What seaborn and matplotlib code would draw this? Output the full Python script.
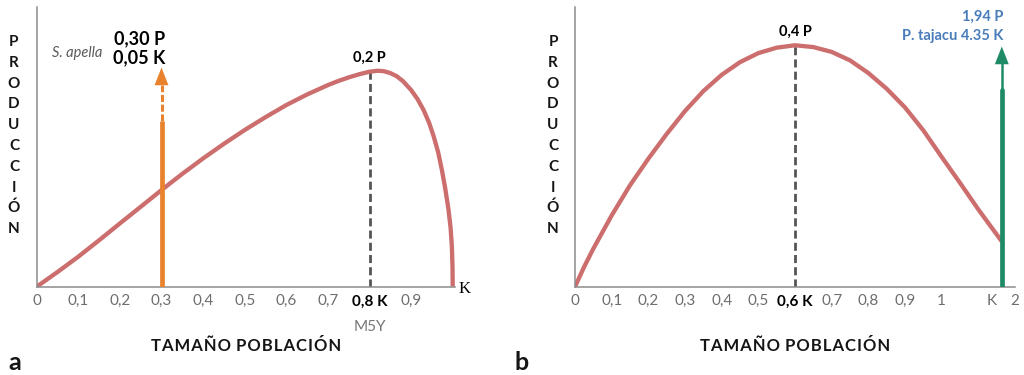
import matplotlib
matplotlib.use("Agg")
import matplotlib.pyplot as plt
import seaborn as sns
import pandas as pd

# ---------------- data ----------------
# panel a: production curve (x in fraction of K, y in P units)
a_x = [0.0, 0.05, 0.1, 0.15, 0.2, 0.25, 0.3, 0.35, 0.4, 0.45, 0.5, 0.55, 0.6, 0.65,
       0.7, 0.725, 0.75, 0.775, 0.8, 0.82, 0.835, 0.85, 0.865, 0.88, 0.9, 0.915,
       0.93, 0.943, 0.954, 0.965, 0.974, 0.982, 0.99, 0.995, 0.998, 0.9995, 1.0]
a_y = [0.0, 0.0136, 0.0278, 0.043, 0.0586, 0.074, 0.0895, 0.1045, 0.1188, 0.1323,
       0.1451, 0.157, 0.1682, 0.178, 0.1867, 0.1905, 0.1938, 0.1967, 0.1991, 0.2,
       0.1995, 0.1978, 0.195, 0.1905, 0.1821, 0.174, 0.1636, 0.152, 0.1395, 0.1245,
       0.108, 0.091, 0.071, 0.054, 0.037, 0.018, 0.0]
a_peak_x, a_peak_y = 0.8, 0.2
a_ticks = [0.0, 0.1, 0.2, 0.3, 0.4, 0.5, 0.6, 0.7, 0.8, 0.9, 1.0]
a_ticklabels = ["0", "0,1", "0,2", "0,3", "0,4", "0,5", "0,6", "0,7", "0,8 K", "0,9", ""]
sap_x, sap_solid, sap_head_base, sap_tip = 0.3, 0.153, 0.187, 0.203

# panel b
b_x = [0.0, 0.025, 0.05, 0.1, 0.15, 0.2, 0.25, 0.3, 0.35, 0.4, 0.45, 0.5, 0.55, 0.6,
       0.65, 0.7, 0.75, 0.8, 0.85, 0.9, 0.95, 1.0, 1.05, 1.1, 1.164]
b_y = [0.0, 0.033, 0.063, 0.118, 0.168, 0.212, 0.253, 0.291, 0.324, 0.351, 0.372,
       0.387, 0.396, 0.4, 0.397, 0.389, 0.375, 0.354, 0.328, 0.297, 0.259, 0.215,
       0.172, 0.128, 0.075]
b_peak_x, b_peak_y = 0.6, 0.4
b_ticks = [0.0, 0.1, 0.2, 0.3, 0.4, 0.5, 0.6, 0.7, 0.8, 0.9, 1.0, 1.136, 1.2]
b_ticklabels = ["0", "0,1", "0,2", "0,3", "0,4", "0,5", "0,6 K", "0,7", "0,8", "0,9", "1", "K", "2"]
taj_x, taj_solid, taj_head_base, taj_tip = 1.164, 0.326, 0.369, 0.398

ylabel_letters = list("PRODUCCIÓN")
xlabel_text = "TAMAÑO POBLACIÓN"

# ---------------- style ----------------
sns.set_style("white")
plt.rcParams['font.family'] = ['Lato', 'DejaVu Sans']

CURVE = "#CD6E6E"
ORANGE = "#E8822C"
GREEN = "#1F8A66"
BLUE = "#4A7EBB"
AXIS = "#8C8C8C"
DASH = "#555555"
TICKC = "#6E6E6E"

W, H = 1024, 375
fig = plt.figure(figsize=(W / 100, H / 100), dpi=100)

axis_y = 286.7
top_y = 7.0
axA = fig.add_axes([36.7 / W, (H - axis_y) / H, 418.1 / W, (axis_y - top_y) / H])
axB = fig.add_axes([575 / W, (H - axis_y) / H, 440 / W, (axis_y - top_y) / H])

dfa = pd.DataFrame({"x": a_x, "y": a_y})
dfb = pd.DataFrame({"x": b_x, "y": b_y})


def style_axes(ax, ticks, labels, bold_idx):
    for s in ["top", "right"]:
        ax.spines[s].set_visible(False)
    for s in ["left", "bottom"]:
        ax.spines[s].set_color(AXIS)
        ax.spines[s].set_linewidth(1.1)
    ax.set_yticks([])
    ax.set_xticks(ticks)
    ax.set_xticklabels(labels)
    ax.tick_params(axis="x", direction="in", length=6, width=1, color=AXIS,
                   pad=5.5, labelsize=11, labelcolor=TICKC)
    for i, t in enumerate(ax.get_xticklabels()):
        if i == bold_idx:
            t.set_fontweight("bold")
            t.set_color("black")
    ax.set_xlabel("")
    ax.set_ylabel("")


# ---- panel a ----
axA.set_xlim(0, 1.005)
axA.set_ylim(0, 0.259)
axA.plot([a_peak_x, a_peak_x], [0, a_peak_y], color=DASH, lw=2.0,
         ls=(0, (2.9, 1.5)), zorder=1)
sns.lineplot(data=dfa, x="x", y="y", ax=axA, color=CURVE, lw=3.1, sort=False,
             zorder=2, solid_capstyle="butt", solid_joinstyle="round")
axA.plot([sap_x, sap_x], [0, sap_solid], color=ORANGE, lw=3.4,
         solid_capstyle="butt", zorder=3)
axA.plot([sap_x, sap_x], [sap_solid, sap_head_base], color=ORANGE, lw=2.2,
         ls=(0, (2.3, 0.9)), zorder=3)
axA.annotate("", xy=(sap_x, sap_tip), xytext=(sap_x, sap_head_base),
             arrowprops=dict(arrowstyle="-|>,head_length=0.64,head_width=0.25",
                             mutation_scale=20, color=ORANGE, lw=0,
                             shrinkA=0, shrinkB=0), zorder=4)
style_axes(axA, a_ticks, a_ticklabels, 8)

axA.annotate("0,2 P", xy=(a_peak_x, a_peak_y), xytext=(0, 6.5),
             textcoords="offset points", ha="center", va="baseline",
             fontsize=10.5, fontweight="bold", color="black")
axA.annotate("0,05 K", xy=(sap_x, sap_tip), xytext=(2.5, 3),
             textcoords="offset points", ha="right", va="baseline",
             fontsize=13, fontweight="bold", color="black")
axA.annotate("0,30 P", xy=(sap_x, sap_tip), xytext=(2.5, 16.5),
             textcoords="offset points", ha="right", va="baseline",
             fontsize=13, fontweight="bold", color="black")
axA.annotate("S. apella", xy=(sap_x, sap_tip), xytext=(-42.3, 7.6),
             textcoords="offset points", ha="right", va="baseline",
             fontsize=10.5, style="italic", color="#5A5A5A")
axA.annotate("K", xy=(1.0, 0), xytext=(4.5, -4.5), textcoords="offset points",
             ha="left", va="baseline", fontsize=12,
             family=["Liberation Serif", "DejaVu Serif"], color="black")
axA.text(a_peak_x, (axis_y - 331) / (axis_y - top_y), "M5Y",
         transform=axA.get_xaxis_transform(), ha="center", va="baseline",
         fontsize=11, color="#777777")

# ---- panel b ----
axB.set_xlim(0, 1.2)
axB.set_ylim(0, 0.4634)
axB.plot([b_peak_x, b_peak_x], [0, b_peak_y], color=DASH, lw=2.0,
         ls=(0, (2.9, 1.5)), zorder=1)
sns.lineplot(data=dfb, x="x", y="y", ax=axB, color=CURVE, lw=3.1, sort=False,
             zorder=2, solid_capstyle="butt", solid_joinstyle="round")
axB.plot([taj_x, taj_x], [0, taj_solid], color=GREEN, lw=3.4,
         solid_capstyle="round", zorder=3)
axB.plot([taj_x, taj_x], [taj_solid, taj_head_base], color=GREEN, lw=1.8, zorder=3)
axB.annotate("", xy=(taj_x, taj_tip), xytext=(taj_x, taj_head_base),
             arrowprops=dict(arrowstyle="-|>,head_length=0.64,head_width=0.25",
                             mutation_scale=20, color=GREEN, lw=0,
                             shrinkA=0, shrinkB=0), zorder=4)
style_axes(axB, b_ticks, b_ticklabels, 6)

axB.annotate("0,4 P", xy=(b_peak_x, b_peak_y), xytext=(0, 7),
             textcoords="offset points", ha="center", va="baseline",
             fontsize=10.5, fontweight="bold", color="black")
axB.annotate("P. tajacu 4.35 K", xy=(taj_x, taj_tip), xytext=(1, 5),
             textcoords="offset points", ha="right", va="baseline",
             fontsize=10.5, fontweight="bold", color=BLUE)
axB.annotate("1,94 P", xy=(taj_x, taj_tip), xytext=(1, 18.4),
             textcoords="offset points", ha="right", va="baseline",
             fontsize=10.5, fontweight="bold", color=BLUE)

# ---- axis titles ----
xl_y = (axis_y - 351) / (axis_y - top_y)
spaced = "\u200a".join(xlabel_text).replace("\u200a \u200a", " \u200a")
for ax in (axA, axB):
    ax.text(0.5, xl_y, spaced, transform=ax.transAxes, ha="center", va="baseline",
            fontsize=12, fontweight="bold", color="#151515")

for x_px in (14, 553):
    for i, ch in enumerate(ylabel_letters):
        base = 46 + 20.8 * i
        fig.text(x_px / W, 1 - base / H, ch, ha="center", va="baseline",
                 fontsize=11, fontweight="bold", color="#151515")

fig.text(8 / W, 1 - 370 / H, "a", ha="left", va="baseline", fontsize=18,
         fontweight="bold", color="#151515")
fig.text(515 / W, 1 - 370 / H, "b", ha="left", va="baseline", fontsize=18,
         fontweight="bold", color="#151515")

fig.savefig("out.png", dpi=100)
